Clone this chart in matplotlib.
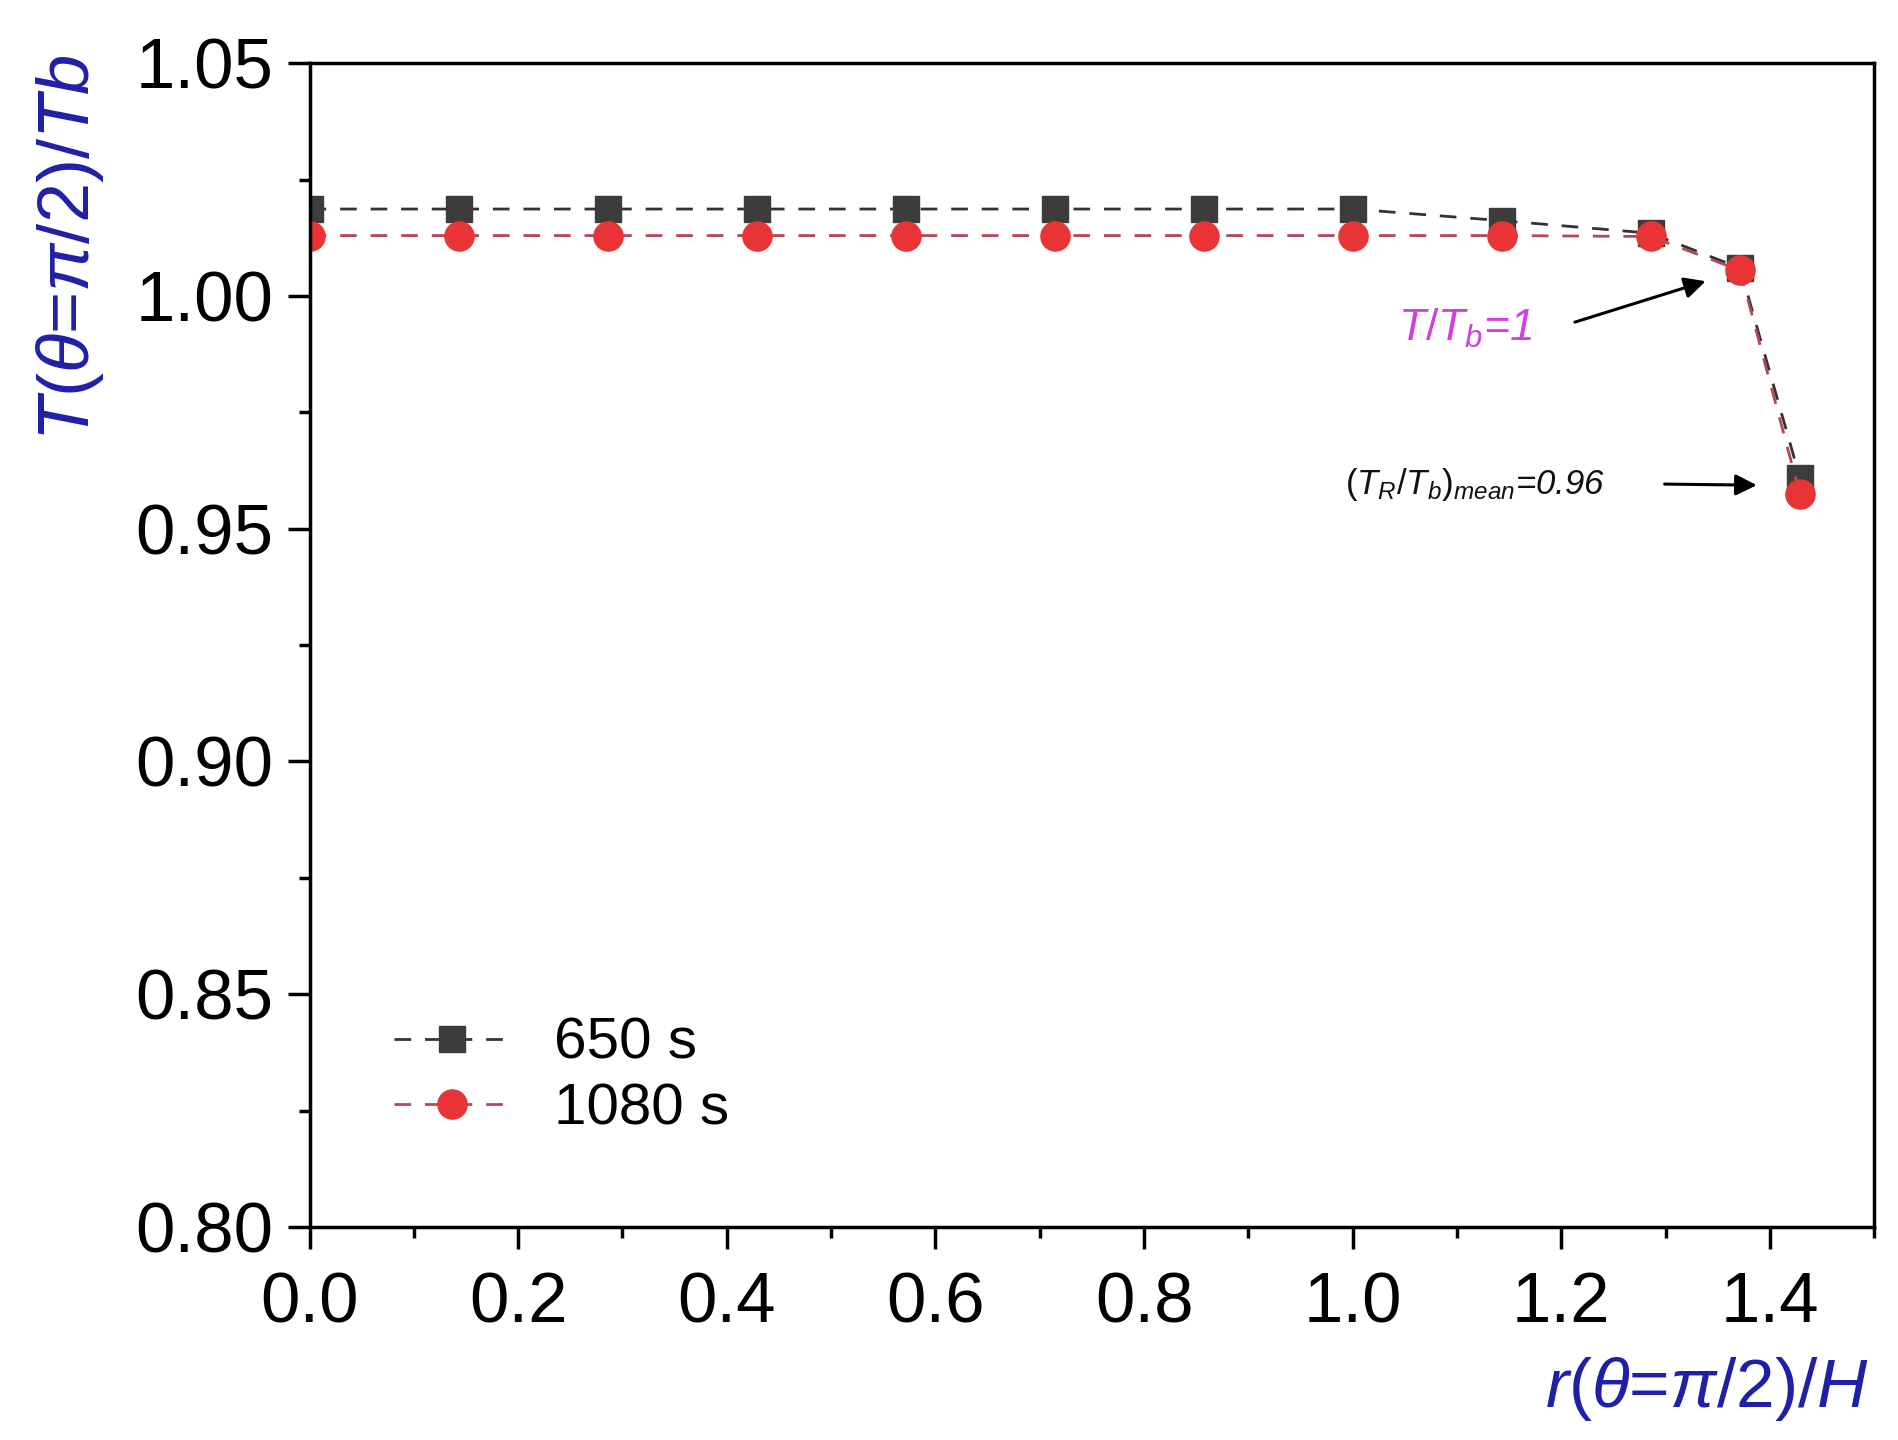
import numpy as np
import matplotlib
matplotlib.use("Agg")
import matplotlib.pyplot as plt
from matplotlib.ticker import MultipleLocator, FormatStrFormatter

plt.rcParams['font.family'] = ['Liberation Sans', 'DejaVu Sans']
plt.rcParams['mathtext.fontset'] = 'custom'
plt.rcParams['mathtext.it'] = 'Liberation Sans:italic'
plt.rcParams['mathtext.rm'] = 'Liberation Sans'

# data
r_H = [0.0, 0.1429, 0.2857, 0.4286, 0.5714, 0.7143, 0.8571, 1.0, 1.1429, 1.2857, 1.3714, 1.4286]
t_650 = [1.0187, 1.0187, 1.0187, 1.0187, 1.0187, 1.0187, 1.0187, 1.0187, 1.0162, 1.0135, 1.0060, 0.9610]
t_1080 = [1.0130, 1.0130, 1.0130, 1.0130, 1.0130, 1.0130, 1.0130, 1.0130, 1.0130, 1.0128, 1.0055, 0.9575]
labels = ['650 s', '1080 s']

fig = plt.figure(figsize=(18.99, 14.40), dpi=100)
ax = fig.add_axes([0.163, 0.148, 0.824, 0.808])

ax.plot(r_H, t_650, ls=(0, (6, 5)), lw=2, color='#333333', marker='s', ms=19,
        mfc='#3c3c3c', mec='#3c3c3c', label=labels[0])
ax.plot(r_H, t_1080, ls=(0, (6, 5)), lw=2, color='#b04858', marker='o', ms=21,
        mfc='#e83434', mec='#e83434', label=labels[1])

ax.set_xlim(0, 1.5)
ax.set_ylim(0.80, 1.05)
ax.xaxis.set_major_locator(MultipleLocator(0.2))
ax.xaxis.set_minor_locator(MultipleLocator(0.1))
ax.yaxis.set_major_locator(MultipleLocator(0.05))
ax.yaxis.set_minor_locator(MultipleLocator(0.025))
ax.xaxis.set_major_formatter(FormatStrFormatter('%.1f'))
ax.yaxis.set_major_formatter(FormatStrFormatter('%.2f'))
ax.tick_params(which='major', direction='out', length=16, width=2.5, labelsize=51, pad=10)
ax.tick_params(which='minor', direction='out', length=8, width=2.5)
ax.tick_params(axis='x', pad=16)
for s in ax.spines.values():
    s.set_linewidth(2.5)

# annotations
ax.text(1.108, 0.993, r'$T/T_b$=1', color='#d040e0', fontsize=32, style='italic',
        ha='center', va='center')
ax.annotate('', xy=(r_H[10], t_1080[10]), xytext=(1.213, 0.9944),
            arrowprops=dict(arrowstyle='-|>', color='k', lw=2.2, mutation_scale=32,
                            shrinkA=0, shrinkB=26))
ax.text(1.242, 0.9595, r'$(T_R/T_b)_{mean}$=0.96', color='#111111', fontsize=25,
        style='italic', ha='right', va='center')
ax.annotate('', xy=(r_H[11], (t_650[11] + t_1080[11]) / 2), xytext=(1.299, 0.9596),
            arrowprops=dict(arrowstyle='-|>', color='k', lw=2.2, mutation_scale=32,
                            shrinkA=0, shrinkB=31))

leg = ax.legend(loc='center left', bbox_to_anchor=(0.054, 0.129), frameon=False,
                fontsize=42, handlelength=2.0, handletextpad=0.75, labelspacing=0.2,
                borderpad=0, borderaxespad=0)

blue = '#1f1fa8'
fig.text(0.037, 0.962, r'$T(\theta$=$\pi/2)/Tb$', rotation=90, color=blue,
         fontsize=52, ha='center', va='top')
fig.text(0.984, 0.012, r'$r(\theta$=$\pi/2)/H$', color=blue, fontsize=50,
         ha='right', va='bottom')

fig.savefig('out.png', dpi=100)
